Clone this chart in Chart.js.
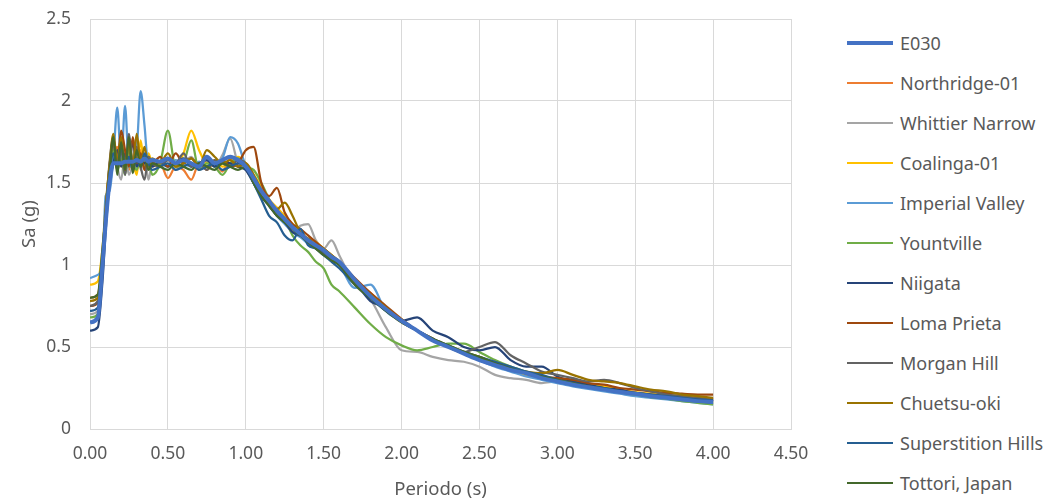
<!DOCTYPE html>
<html>
<head>
<meta charset="utf-8">
<script src="https://cdn.jsdelivr.net/npm/chart.js@4"></script>
<style>
  body { margin: 0; background: #fff; }
  #wrap { position: relative; width: 1062px; height: 502px; overflow: hidden; }
  #chartBox { position: absolute; left: 0; top: 0; width: 830px; height: 502px; }
  #legend { position: absolute; left: 847px; top: 0; width: 215px; height: 502px; font-family: "Noto Sans", sans-serif; font-size: 18px; color: #595959; }
  .item { position: absolute; left: 0; height: 24px; white-space: nowrap; }
  .swatch { position: absolute; left: 0; width: 46px; }
  .label { position: absolute; left: 53px; top: 0; line-height: 24px; }
</style>
</head>
<body>
<div id="wrap">
  <div id="chartBox"><canvas id="chart"></canvas></div>
  <div id="legend"></div>
</div>
<script>
// periodos (s)
const periods = [
  0, 0.05, 0.08, 0.1, 0.125, 0.15, 0.175, 0.2, 0.225, 0.25, 0.275, 0.3, 0.325, 0.35, 0.375, 0.4,
  0.45, 0.5, 0.55, 0.6, 0.65, 0.7, 0.75, 0.8, 0.85, 0.9, 0.95, 1.0, 1.05, 1.1, 1.15, 1.2, 1.25, 1.3, 1.35, 1.4, 1.45, 1.5, 1.55, 1.6,
  1.7, 1.8, 1.9, 2.0, 2.1, 2.2, 2.3, 2.4, 2.5, 2.6, 2.7, 2.8, 2.9, 3.0, 3.1, 3.2, 3.3, 3.4, 3.5, 3.6, 3.7, 3.8, 3.9, 4.0
];

// Sa (g) por registro
const e030 = [
  0.65, 0.68, 1.00, 1.25, 1.50, 1.62, 1.62, 1.62, 1.63, 1.63, 1.63, 1.64, 1.63, 1.65, 1.63, 1.64,
  1.63, 1.65, 1.62, 1.64, 1.62, 1.60, 1.66, 1.62, 1.64, 1.66, 1.64, 1.60, 1.53, 1.45, 1.39, 1.33, 1.28, 1.23, 1.19, 1.15, 1.12, 1.09, 1.05, 1.02,
  0.91, 0.81, 0.73, 0.66, 0.60, 0.54, 0.50, 0.46, 0.42, 0.39, 0.36, 0.34, 0.31, 0.29, 0.27, 0.255, 0.24, 0.225, 0.215, 0.20, 0.19, 0.18, 0.17, 0.165
];
const northridge = [
  0.80, 0.82, 1.05, 1.30, 1.55, 1.65, 1.72, 1.60, 1.70, 1.58, 1.66, 1.62, 1.70, 1.58, 1.65, 1.60,
  1.62, 1.53, 1.60, 1.58, 1.52, 1.62, 1.58, 1.62, 1.57, 1.65, 1.60, 1.62, 1.55, 1.46, 1.40, 1.32, 1.30, 1.22, 1.20, 1.14, 1.12, 1.10, 1.05, 1.00,
  0.90, 0.83, 0.74, 0.66, 0.60, 0.55, 0.50, 0.46, 0.44, 0.40, 0.36, 0.33, 0.31, 0.30, 0.28, 0.26, 0.245, 0.23, 0.22, 0.21, 0.20, 0.19, 0.185, 0.18
];
const whittier = [
  0.70, 0.72, 1.00, 1.30, 1.55, 1.75, 1.60, 1.52, 1.68, 1.55, 1.62, 1.75, 1.58, 1.66, 1.52, 1.62,
  1.60, 1.64, 1.58, 1.62, 1.66, 1.59, 1.63, 1.60, 1.67, 1.77, 1.62, 1.58, 1.50, 1.42, 1.37, 1.30, 1.26, 1.20, 1.24, 1.25, 1.15, 1.10, 1.15, 1.06,
  0.88, 0.79, 0.62, 0.48, 0.47, 0.44, 0.42, 0.41, 0.38, 0.33, 0.31, 0.30, 0.28, 0.29, 0.28, 0.26, 0.24, 0.225, 0.21, 0.20, 0.19, 0.18, 0.18, 0.17
];
const coalinga = [
  0.88, 0.90, 1.10, 1.35, 1.58, 1.70, 1.62, 1.78, 1.60, 1.72, 1.64, 1.55, 1.76, 1.60, 1.68, 1.62,
  1.62, 1.65, 1.60, 1.68, 1.82, 1.70, 1.62, 1.64, 1.60, 1.62, 1.66, 1.62, 1.55, 1.48, 1.40, 1.35, 1.30, 1.25, 1.20, 1.16, 1.14, 1.10, 1.06, 1.02,
  0.90, 0.82, 0.74, 0.67, 0.60, 0.55, 0.51, 0.47, 0.44, 0.40, 0.36, 0.33, 0.31, 0.30, 0.29, 0.27, 0.26, 0.24, 0.225, 0.215, 0.21, 0.20, 0.19, 0.185
];
const imperial = [
  0.92, 0.94, 1.00, 1.42, 1.45, 1.65, 1.96, 1.62, 1.97, 1.60, 1.62, 1.70, 2.06, 1.85, 1.60, 1.64,
  1.62, 1.60, 1.64, 1.62, 1.60, 1.63, 1.60, 1.62, 1.65, 1.78, 1.74, 1.60, 1.50, 1.42, 1.38, 1.30, 1.25, 1.20, 1.17, 1.13, 1.10, 1.06, 1.03, 1.00,
  0.86, 0.88, 0.72, 0.66, 0.60, 0.55, 0.50, 0.46, 0.42, 0.38, 0.35, 0.32, 0.30, 0.28, 0.26, 0.245, 0.23, 0.215, 0.20, 0.19, 0.18, 0.17, 0.16, 0.15
];
const yountville = [
  0.68, 0.70, 0.95, 1.25, 1.55, 1.70, 1.58, 1.65, 1.55, 1.70, 1.62, 1.58, 1.66, 1.60, 1.63, 1.55,
  1.62, 1.82, 1.60, 1.62, 1.76, 1.58, 1.62, 1.60, 1.55, 1.62, 1.65, 1.60, 1.58, 1.50, 1.40, 1.30, 1.28, 1.18, 1.12, 1.08, 1.02, 0.98, 0.88, 0.84,
  0.74, 0.64, 0.56, 0.51, 0.48, 0.50, 0.52, 0.52, 0.47, 0.42, 0.38, 0.35, 0.32, 0.30, 0.28, 0.26, 0.24, 0.225, 0.21, 0.195, 0.185, 0.17, 0.16, 0.15
];
const niigata = [
  0.60, 0.62, 0.90, 1.20, 1.50, 1.62, 1.70, 1.60, 1.68, 1.62, 1.75, 1.60, 1.65, 1.62, 1.66, 1.60,
  1.63, 1.60, 1.62, 1.65, 1.60, 1.62, 1.64, 1.60, 1.63, 1.62, 1.60, 1.58, 1.50, 1.42, 1.36, 1.30, 1.26, 1.20, 1.18, 1.16, 1.12, 1.08, 1.05, 1.02,
  0.90, 0.78, 0.74, 0.66, 0.68, 0.60, 0.56, 0.50, 0.48, 0.50, 0.42, 0.38, 0.38, 0.32, 0.29, 0.27, 0.25, 0.24, 0.22, 0.21, 0.20, 0.19, 0.18, 0.17
];
const lomaPrieta = [
  0.75, 0.77, 1.00, 1.30, 1.60, 1.75, 1.62, 1.82, 1.70, 1.60, 1.78, 1.62, 1.68, 1.58, 1.65, 1.62,
  1.66, 1.60, 1.68, 1.62, 1.65, 1.60, 1.66, 1.62, 1.64, 1.60, 1.62, 1.70, 1.72, 1.50, 1.42, 1.47, 1.32, 1.25, 1.22, 1.18, 1.14, 1.10, 1.06, 1.02,
  0.92, 0.83, 0.75, 0.67, 0.60, 0.55, 0.50, 0.46, 0.43, 0.40, 0.37, 0.34, 0.32, 0.31, 0.30, 0.28, 0.27, 0.25, 0.24, 0.23, 0.22, 0.215, 0.21, 0.21
];
const morganHill = [
  0.75, 0.78, 1.00, 1.30, 1.62, 1.78, 1.58, 1.70, 1.55, 1.80, 1.62, 1.72, 1.60, 1.52, 1.66, 1.62,
  1.60, 1.64, 1.62, 1.68, 1.60, 1.62, 1.58, 1.64, 1.62, 1.60, 1.64, 1.62, 1.52, 1.45, 1.38, 1.32, 1.27, 1.22, 1.18, 1.14, 1.10, 1.07, 1.04, 1.00,
  0.90, 0.80, 0.72, 0.65, 0.60, 0.55, 0.50, 0.47, 0.50, 0.53, 0.45, 0.40, 0.35, 0.33, 0.31, 0.29, 0.30, 0.28, 0.25, 0.23, 0.21, 0.20, 0.19, 0.18
];
const chuetsu = [
  0.78, 0.80, 1.05, 1.35, 1.60, 1.80, 1.62, 1.78, 1.58, 1.75, 1.60, 1.80, 1.62, 1.72, 1.60, 1.65,
  1.62, 1.68, 1.60, 1.62, 1.65, 1.60, 1.70, 1.66, 1.62, 1.64, 1.60, 1.62, 1.55, 1.46, 1.38, 1.34, 1.38, 1.30, 1.20, 1.16, 1.12, 1.10, 1.06, 1.02,
  0.90, 0.82, 0.74, 0.66, 0.60, 0.55, 0.50, 0.46, 0.43, 0.40, 0.37, 0.35, 0.34, 0.36, 0.33, 0.30, 0.29, 0.28, 0.26, 0.24, 0.23, 0.21, 0.20, 0.19
];
const superstition = [
  0.72, 0.74, 1.00, 1.30, 1.55, 1.68, 1.60, 1.72, 1.62, 1.66, 1.58, 1.64, 1.60, 1.68, 1.62, 1.58,
  1.60, 1.62, 1.58, 1.60, 1.62, 1.58, 1.60, 1.62, 1.58, 1.60, 1.62, 1.60, 1.50, 1.40, 1.30, 1.26, 1.18, 1.15, 1.22, 1.12, 1.10, 1.06, 1.02, 0.98,
  0.88, 0.80, 0.72, 0.66, 0.60, 0.55, 0.51, 0.47, 0.44, 0.41, 0.38, 0.35, 0.33, 0.30, 0.28, 0.26, 0.25, 0.23, 0.22, 0.21, 0.20, 0.19, 0.18, 0.175
];
const tottori = [
  0.80, 0.82, 1.10, 1.30, 1.55, 1.78, 1.55, 1.75, 1.58, 1.78, 1.56, 1.70, 1.60, 1.66, 1.58, 1.62,
  1.60, 1.58, 1.62, 1.60, 1.58, 1.62, 1.60, 1.58, 1.62, 1.60, 1.58, 1.60, 1.50, 1.42, 1.36, 1.30, 1.26, 1.22, 1.18, 1.14, 1.10, 1.06, 1.03, 1.00,
  0.88, 0.80, 0.72, 0.65, 0.60, 0.55, 0.51, 0.47, 0.44, 0.40, 0.37, 0.34, 0.32, 0.30, 0.28, 0.26, 0.245, 0.23, 0.215, 0.20, 0.19, 0.18, 0.17, 0.16
];

const seriesNames = ['E030', 'Northridge-01', 'Whittier Narrow', 'Coalinga-01', 'Imperial Valley', 'Yountville',
  'Niigata', 'Loma Prieta', 'Morgan Hill', 'Chuetsu-oki', 'Superstition Hills', 'Tottori, Japan'];
const seriesValues = [e030, northridge, whittier, coalinga, imperial, yountville,
  niigata, lomaPrieta, morganHill, chuetsu, superstition, tottori];
const seriesColors = ['#4472C4', '#ED7D31', '#A5A5A5', '#FFC000', '#5B9BD5', '#70AD47',
  '#264478', '#9E480E', '#636363', '#997300', '#255E91', '#43682B'];

const xTicks = [0, 0.5, 1, 1.5, 2, 2.5, 3, 3.5, 4, 4.5];
const yTicks = [0, 0.5, 1, 1.5, 2, 2.5];

const FONT = '"Noto Sans", sans-serif';
const TEXT = '#595959';
const GRID = '#d9d9d9';

const datasets = seriesNames.map((name, k) => ({
  label: name,
  data: seriesValues[k].map((v, i) => ({ x: periods[i], y: v })),
  borderColor: seriesColors[k],
  backgroundColor: seriesColors[k],
  borderWidth: k === 0 ? 4 : 2.25,
  pointRadius: 0,
  cubicInterpolationMode: 'monotone',
  order: k === 0 ? 0 : 13 - k
}));

const chart = new Chart(document.getElementById('chart'), {
  type: 'line',
  data: { datasets: datasets },
  options: {
    responsive: true,
    maintainAspectRatio: false,
    animation: false,
    layout: { padding: { left: 16, right: 39, top: 19, bottom: 0 } },
    plugins: {
      legend: { display: false },
      tooltip: { enabled: false }
    },
    scales: {
      x: {
        type: 'linear',
        min: 0,
        max: 4.5,
        afterBuildTicks: (axis) => { axis.ticks = xTicks.map(v => ({ value: v })); },
        afterFit: (axis) => { axis.height = 73; },
        grid: { color: GRID, drawTicks: false },
        border: { color: GRID },
        ticks: {
          color: TEXT,
          font: { family: FONT, size: 17.5 },
          padding: 15,
          maxRotation: 0,
          callback: (v) => Number(v).toFixed(2)
        },
        title: {
          display: true,
          text: 'Periodo (s)',
          color: TEXT,
          font: { family: FONT, size: 18.5 },
          padding: { top: 10, bottom: 1 }
        }
      },
      y: {
        min: 0,
        max: 2.5,
        afterBuildTicks: (axis) => { axis.ticks = yTicks.map(v => ({ value: v })); },
        afterFit: (axis) => {
          axis.width = 74;
          axis.paddingTop = 10;
          axis.paddingBottom = 10;
        },
        grid: { color: GRID, drawTicks: false },
        border: { color: GRID },
        ticks: {
          color: TEXT,
          font: { family: FONT, size: 17.5 },
          padding: 19,
          callback: (v) => String(v)
        },
        title: {
          display: true,
          text: 'Sa (g)',
          color: TEXT,
          font: { family: FONT, size: 18.5 },
          padding: { top: 3, bottom: 4 }
        }
      }
    }
  }
});

// leyenda a la derecha
const legend = document.getElementById('legend');
for (let i = 0; i < datasets.length; i++) {
  const ds = datasets[i];
  const item = document.createElement('div');
  const swatch = document.createElement('div');
  const label = document.createElement('div');
  const cy = 43 + 40 * i;
  item.className = 'item';
  item.style.top = (cy - 12) + 'px';
  swatch.className = 'swatch';
  swatch.style.height = ds.borderWidth + 'px';
  swatch.style.top = (12 - ds.borderWidth / 2) + 'px';
  swatch.style.background = ds.borderColor;
  label.className = 'label';
  label.textContent = ds.label;
  item.appendChild(swatch);
  item.appendChild(label);
  legend.appendChild(item);
}
</script>
</body>
</html>
